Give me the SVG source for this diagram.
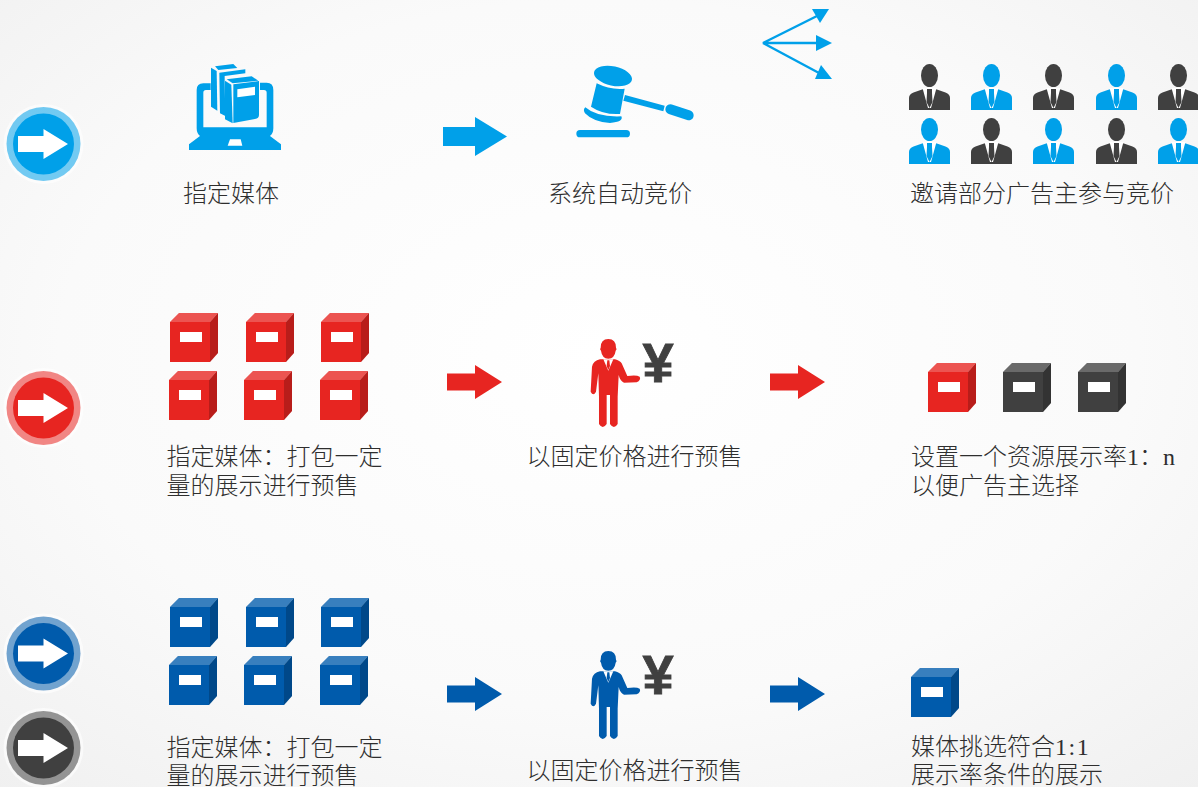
<svg xmlns="http://www.w3.org/2000/svg" xmlns:xlink="http://www.w3.org/1999/xlink" width="1198" height="787" viewBox="0 0 1198 787">
<style>
.t{font-family:"Liberation Serif","Noto Sans CJK SC",serif;font-size:24px;font-weight:300;fill:#2e2e2e}
.y{font-family:"Liberation Sans",sans-serif;font-size:56px;font-weight:700;fill:#404040;stroke:#404040;stroke-width:.8;text-anchor:middle}
.sky{fill:#00a0e9}.red{fill:#e72521}.navy{fill:#005bac}.ink{fill:#404040}
.w{fill:#fff}
</style>
<defs>
<radialGradient id="bg" cx="50%" cy="45%" r="75%"><stop offset="0" stop-color="#ffffff"/><stop offset=".6" stop-color="#fafafa"/><stop offset="1" stop-color="#f0f0f0"/></radialGradient>
<g id="box">
<rect width="40" height="40"/>
<polygon points="0,0 9,-9 48,-9 40,0"/>
<polygon points="0,0 9,-9 48,-9 40,0" fill="#fff" opacity=".22"/>
<polygon points="40,0 48,-9 48,31 40,40"/>
<polygon points="40,0 48,-9 48,31 40,40" fill="#000" opacity=".2"/>
<rect x="10" y="10" width="22" height="10" fill="#fff"/>
</g>
<g id="suit">
<ellipse cx="0" cy="11.500" rx="8.500" ry="11.500"/>
<path d="M-20.500,46V34Q-20.500,30-16,28.500L-6,25H6L16,28.500Q20.500,30 20.500,34V46Z"/>
<polygon points="-7,24 7,24 1.500,44 -1.500,44" fill="#fff"/>
<path d="M-2.500,25H2.500V29L3,38L0,44L-3,38L-2.500,29Z"/>
</g>
<g id="man">
<path d="M92,53Q92,27 115,27Q138,27 138,53Q142,58 137,62Q134,85 115,86Q96,85 93,62Q88,58 92,53Z"/>
<path d="M90,88Q70,92 66,110L62,185Q70,200 78,185L85,130L87,200V282Q98,300 110,282V195H120V282Q132,300 143,282V200L146,135Q150,152 162,158L200,157Q214,150 209,140Q200,134 172,138L155,100Q150,92 135,88Z"/>
<polygon points="100,88 130,88 115,122" fill="#fff"/>
<polygon points="112,91 118,91 120,108 115,120 110,108"/>
</g>
<g id="disc">
<circle r="40" fill="#fff" opacity=".6"/>
<circle r="37" opacity=".55"/>
<circle r="30.500"/>
<polygon points="-25.500,-8 0,-8 0,-15 24.500,0 0,15 0,8 -25.500,8" fill="#fff"/>
</g>
<polygon id="arr-l" points="0,-9.500 32,-9.500 32,-19.500 64,0 32,19.500 32,9.500 0,9.500"/>
<polygon id="arr-s" points="0,-8.500 28,-8.500 28,-17 55,0 28,17 28,8.500 0,8.500"/>
</defs>
<rect id="background" width="1198" height="787" fill="url(#bg)"/>

<g id="connectors">
<use href="#arr-l" x="443" y="136.500" class="sky"/>
<use href="#arr-s" x="447" y="382" class="red"/>
<use href="#arr-s" x="770" y="382" class="red"/>
<use href="#arr-s" x="447" y="694" class="navy"/>
<use href="#arr-s" x="770" y="694" class="navy"/>
<g id="fan">
<path d="M819,15L763,43L818,43M763,43L819,73" fill="none" stroke="#00a0e9" stroke-width="2.400"/>
<polygon class="sky" points="812,9 829,9 820,23"/>
<polygon class="sky" points="816,35 832,43 816,51"/>
<polygon class="sky" points="821,65 832,79 815,79"/>
</g>
</g>

<g id="disc-sky" class="sky"><use href="#disc" x="43.500" y="144"/></g>
<g id="disc-red" class="red"><use href="#disc" x="43.500" y="408"/></g>
<g id="disc-navy" class="navy"><use href="#disc" x="43.500" y="653.500"/></g>
<g id="disc-ink" class="ink"><use href="#disc" x="43.500" y="748"/></g>

<g id="node-media" class="sky">
<g transform="translate(0 50) scale(.33333)">
<path d="M567,300V283L600,258Q590,250 590,235V120Q590,100 610,100H632V120H618Q610,120 610,128V232H800V128Q800,120 792,120H780V98H800Q820,98 820,120V235Q820,250 810,258L843,283V300Z"/>
<polygon class="w" points="690,268 722,268 727,287 683,287"/>
<polygon points="633,53 650,63 652,182 633,170"/>
<polygon points="655,60 712,54 700,42 645,49"/>
<polygon points="658,68 736,58 736,70 674,78 674,92 676,198 660,190"/>
<polygon points="675,92 694,104 698,220 675,208"/>
<polygon points="680,88 755,79 775,92 698,100"/>
<path d="M700,103L777,93V195Q777,205 765,207L700,219Z"/>
<polygon class="w" points="712,118 765,110 765,135 712,142"/>
</g>
<text class="t" x="183" y="202">指定媒体</text>
</g>

<g id="node-auction" class="sky">
<g transform="translate(430 0) scale(.33333)">
<ellipse cx="549" cy="228" rx="58" ry="29" transform="rotate(12 549 228)"/>
<path d="M500,250Q540,270 584,266L570,342Q520,345 483,320Z"/>
<path d="M466,322Q500,352 574,349Q582,366 540,369Q490,366 465,340Q458,330 466,322Z"/>
<polygon points="585,285 704,317 700,334 580,302"/>
<line x1="721" y1="328" x2="776" y2="346" stroke="#00a0e9" stroke-width="30" stroke-linecap="round"/>
<rect x="439" y="390" width="161" height="22" rx="11"/>
</g>
<text class="t" x="548" y="202">系统自动竞价</text>
</g>

<g id="node-advertisers">
<g class="ink"><use href="#suit" x="929.500" y="64"/><use href="#suit" x="1053.500" y="64"/><use href="#suit" x="1178.500" y="64"/><use href="#suit" x="991.500" y="118"/><use href="#suit" x="1116.500" y="118"/></g>
<g class="sky"><use href="#suit" x="991.500" y="64"/><use href="#suit" x="1116.500" y="64"/><use href="#suit" x="929.500" y="118"/><use href="#suit" x="1053.500" y="118"/><use href="#suit" x="1178.500" y="118"/></g>
<text class="t" x="910" y="202">邀请部分广告主参与竞价</text>
</g>

<g id="node-red-boxes" class="red">
<use href="#box" x="170" y="322"/><use href="#box" x="246" y="322"/><use href="#box" x="321" y="322"/>
<use href="#box" x="169" y="380"/><use href="#box" x="244" y="380"/><use href="#box" x="320" y="380"/>
<text class="t"><tspan x="166.500" y="465">指定媒体：打包一定</tspan><tspan x="166.500" y="494">量的展示进行预售</tspan></text>
</g>

<g id="node-red-seller" class="red">
<use href="#man" transform="translate(570 330) scale(.33333)"/>
<text class="y" x="658" y="382">¥</text>
<text class="t" x="526.500" y="465">以固定价格进行预售</text>
</g>

<g id="node-red-rate">
<use href="#box" x="928" y="372" class="red"/>
<use href="#box" x="1003" y="372" class="ink"/>
<use href="#box" x="1078" y="372" class="ink"/>
<text class="t"><tspan x="911" y="465">设置一个资源展示率1：n</tspan><tspan x="911" y="494">以便广告主选择</tspan></text>
</g>

<g id="node-navy-boxes" class="navy">
<use href="#box" x="170" y="607"/><use href="#box" x="246" y="607"/><use href="#box" x="321" y="607"/>
<use href="#box" x="169" y="665"/><use href="#box" x="244" y="665"/><use href="#box" x="320" y="665"/>
<text class="t"><tspan x="166.500" y="756">指定媒体：打包一定</tspan><tspan x="166.500" y="783.500">量的展示进行预售</tspan></text>
</g>

<g id="node-navy-seller" class="navy">
<use href="#man" transform="translate(570 642) scale(.33333)"/>
<text class="y" x="658" y="694">¥</text>
<text class="t" x="526.500" y="779">以固定价格进行预售</text>
</g>

<g id="node-navy-rate" class="navy">
<use href="#box" x="911" y="677"/>
<text class="t"><tspan x="911" y="755">媒体挑选符合<tspan letter-spacing="1.500">1:1</tspan></tspan><tspan x="911" y="783">展示率条件的展示</tspan></text>
</g>
</svg>
